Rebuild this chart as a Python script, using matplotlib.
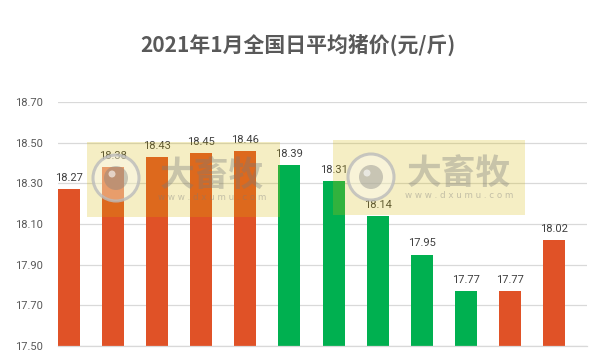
import matplotlib
matplotlib.use("Agg")
import matplotlib.pyplot as plt
from matplotlib.patches import Rectangle, Ellipse

plt.rcParams['font.family'] = ['Noto Sans CJK SC', 'DejaVu Sans']

title = "2021年1月全国日平均猪价(元/斤)"
values = [18.27, 18.38, 18.43, 18.45, 18.46, 18.39, 18.31, 18.14, 17.95, 17.77, 17.77, 18.02]
colors = ['#E05227'] * 5 + ['#00B050'] * 5 + ['#E05227'] * 2
yticks = [17.50, 17.70, 17.90, 18.10, 18.30, 18.50, 18.70]

NUMFONT = ['Roboto', 'DejaVu Sans']

fig = plt.figure(figsize=(6.03, 3.6), dpi=100)
ax = fig.add_axes([58/603, 14/360, (587-58)/603, (346-102)/360])
x = list(range(len(values)))
ax.bar(x, [v - 17.5 for v in values], bottom=17.5, width=0.5, color=colors, zorder=2)
for xi, v in zip(x, values):
    ax.text(xi, v + 0.03, f"{v:.2f}", ha='center', va='bottom', fontsize=8,
            color='#404040', family=NUMFONT, zorder=3)
ax.set_ylim(17.5, 18.7)
ax.set_xlim(-0.25, 11.75)
ax.set_yticks(yticks)
ax.set_yticklabels([f"{t:.2f}" for t in yticks], fontsize=8, color='#595959', family=NUMFONT)
ax.set_xticks([])
ax.tick_params(axis='y', length=0, pad=11)
ax.grid(axis='y', color='#D9D9D9', linewidth=0.9, zorder=0)
for s in ['top', 'right', 'left']:
    ax.spines[s].set_visible(False)
ax.spines['bottom'].set_color('#D9D9D9')
ax.spines['bottom'].set_linewidth(0.9)

fig.text(298/603, 1 - 45/360, title, ha='center', va='center', fontsize=15,
         fontweight='bold', color='#595959')

def fx(px):
    return px / 603

def fy(py):
    return 1 - py / 360

# watermarks (in figure pixel coordinates)
def wm(x0, y0, x1, y1, cx, cy, tx, ty):
    fig.patches.append(Rectangle((fx(x0), fy(y1)), fx(x1 - x0), (y1 - y0) / 360,
                                 transform=fig.transFigure, facecolor='#D4B900', alpha=0.23,
                                 edgecolor='none', zorder=5))
    r = 23
    fig.patches.append(Ellipse((fx(cx), fy(cy)), 2*r/603, 2*r/360, transform=fig.transFigure,
                               facecolor='white', alpha=0.35, edgecolor='none', zorder=6))
    fig.patches.append(Ellipse((fx(cx), fy(cy)), 2*r/603, 2*r/360, transform=fig.transFigure,
                               facecolor='none', edgecolor='#BBBBBB', linewidth=2.2, alpha=0.8, zorder=6))
    r2 = 12
    fig.patches.append(Ellipse((fx(cx), fy(cy)), 2*r2/603, 2*r2/360, transform=fig.transFigure,
                               facecolor='#808080', alpha=0.4, edgecolor='none', zorder=6))
    r3 = 3.5
    fig.patches.append(Ellipse((fx(cx - 4), fy(cy - 4)), 2*r3/603, 2*r3/360, transform=fig.transFigure,
                               facecolor='white', alpha=0.6, edgecolor='none', zorder=6))
    fig.text(fx(tx), fy(ty), "大畜牧", ha='center', va='center', fontsize=25,
             fontweight='bold', color='#7A7A7A', alpha=0.36, zorder=6)
    fig.text(fx(tx), fy(ty + 22), "w w w . d x u m u . c o m", ha='center', va='center',
             fontsize=6.3, color='#7A7A7A', alpha=0.4, family='DejaVu Sans', zorder=6)

wm(87, 142, 280, 217, 116, 178, 212, 175)
wm(333, 140, 525, 215, 371, 177, 459, 173)

fig.savefig("out.png", dpi=100)
